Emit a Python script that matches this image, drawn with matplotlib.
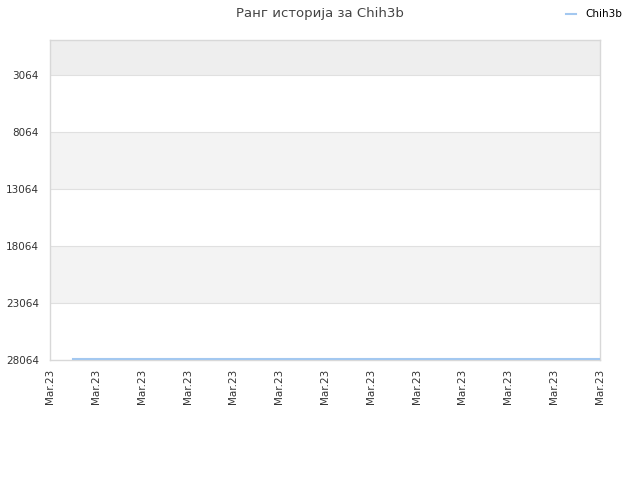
import matplotlib
matplotlib.use("Agg")
import matplotlib.pyplot as plt

# --- Data ---
player = "Chih3b"
tick_labels = ["Mar.23"] * 13
tick_pos = list(range(13))
rank_x = [0.5, 3.0, 6.0, 9.0, 12.0]
rank_y = [27990, 27990, 27990, 27990, 27990]
y_ticks = [3064, 8064, 13064, 18064, 23064, 28064]

fig = plt.figure(figsize=(6.4, 4.8), dpi=100)
ax = fig.add_axes([50 / 640, 1 - 360 / 480, 550 / 640, 320 / 480])

# alternating bands
bands = [(0, 3064), (3064, 8064), (8064, 13064), (13064, 18064), (18064, 23064), (23064, 28064)]
colors = ["#eeeeee", "#ffffff", "#f3f3f3", "#ffffff", "#f3f3f3", "#ffffff"]
for (a, b), c in zip(bands, colors):
    ax.axhspan(a, b, color=c, zorder=0, lw=0)
for t in y_ticks[:-1]:
    ax.axhline(t, color="#e0e0e0", lw=0.8, zorder=1)

ax.plot(rank_x, rank_y, color="#a3c8f0", lw=1.5, label=player, zorder=3)

ax.set_xlim(0, 12)
ax.set_ylim(28064, 0)
ax.set_yticks(y_ticks)
ax.set_yticklabels([str(t) for t in y_ticks])
ax.set_xticks(tick_pos)
ax.set_xticklabels(tick_labels, rotation=90)
ax.tick_params(axis="y", length=0, labelsize=7.5, labelcolor="#333333", pad=8)
ax.tick_params(axis="x", length=0, labelsize=7.5, labelcolor="#333333", pad=6)

for s in ax.spines.values():
    s.set_color("#d8d8d8")
    s.set_linewidth(1)

fig.suptitle("Ранг историја за Chih3b", y=0.985, fontsize=9.5, color="#444444")
fig.legend(loc="upper right", bbox_to_anchor=(0.987, 1.0), frameon=False, fontsize=7.5,
           handlelength=1.0, handletextpad=0.9)

fig.savefig("out.png", dpi=100)
